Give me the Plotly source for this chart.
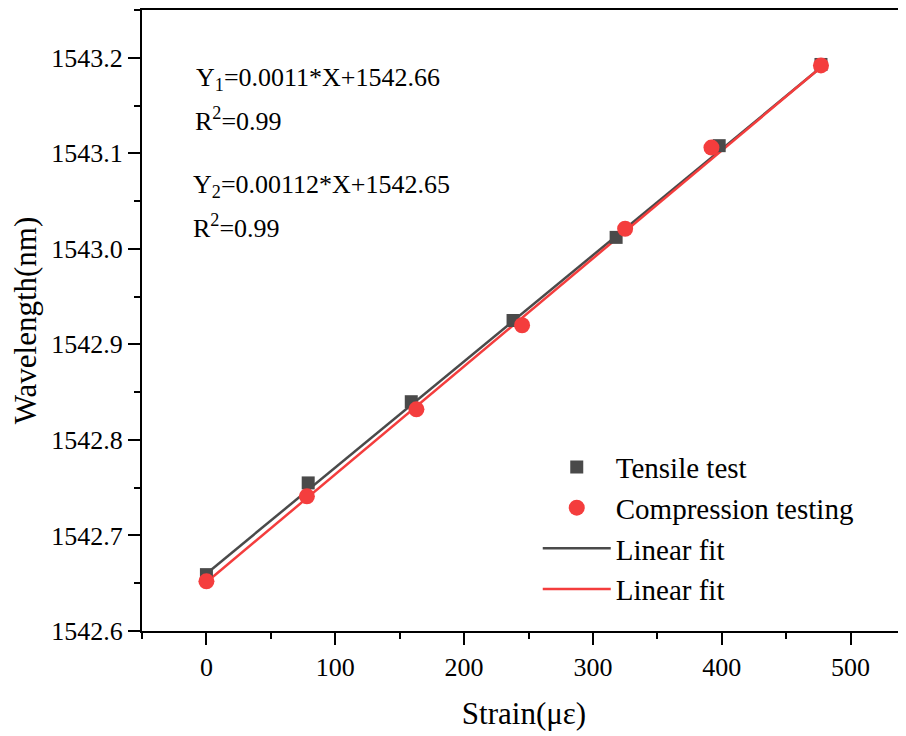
import plotly.graph_objects as go

# Data
tensile_x = [0, 79, 159, 238, 318, 398, 477]
tensile_y = [1542.659, 1542.755, 1542.840, 1542.925, 1543.012, 1543.108, 1543.193]
compress_x = [0, 78, 163, 245, 325, 392, 477]
compress_y = [1542.652, 1542.741, 1542.832, 1542.920, 1543.021, 1543.106, 1543.192]
fit1_x = [0, 477]
fit1_y = [1542.660, 1543.190]
fit2_x = [0, 477]
fit2_y = [1542.651, 1543.190]

x_ticks = [0, 100, 200, 300, 400, 500]
y_ticks = [1542.6, 1542.7, 1542.8, 1542.9, 1543.0, 1543.1, 1543.2]
y_ticklabels = ["1542.6", "1542.7", "1542.8", "1542.9", "1543.0", "1543.1", "1543.2"]

GRAY = "#4a4a4a"
RED = "#f43d3d"
FONT = "Liberation Serif"

fig = go.Figure()
fig.add_trace(go.Scatter(x=fit1_x, y=fit1_y, mode="lines", name="Linear fit",
                         line=dict(color=GRAY, width=2.5), legendrank=3))
fig.add_trace(go.Scatter(x=fit2_x, y=fit2_y, mode="lines", name="Linear fit",
                         line=dict(color=RED, width=2.5), legendrank=4))
fig.add_trace(go.Scatter(x=tensile_x, y=tensile_y, mode="markers", name="Tensile test",
                         marker=dict(symbol="square", size=13, color=GRAY), legendrank=1))
fig.add_trace(go.Scatter(x=compress_x, y=compress_y, mode="markers", name="Compression testing",
                         marker=dict(symbol="circle", size=16, color=RED), legendrank=2))

ann_font = dict(family=FONT, size=26, color="black")
anns = [
    ("Y<sub>1</sub>=0.0011*X+1542.66", 194, 77),
    ("R<sup>2</sup>=0.99", 193, 118),
    ("Y<sub>2</sub>=0.00112*X+1542.65", 191, 185),
    ("R<sup>2</sup>=0.99", 191, 225),
]
for txt, px, py in anns:
    fig.add_annotation(text=txt, xref="paper", yref="paper",
                       x=(px - 142) / 764, y=(631 - py) / 623,
                       xanchor="left", yanchor="middle", showarrow=False, font=ann_font)

fig.update_layout(
    width=898, height=728,
    margin=dict(l=134, r=0, t=0, b=105),
    paper_bgcolor="white", plot_bgcolor="white",
    font=dict(family=FONT, size=26, color="black"),
    legend=dict(x=0.518, y=0.305, xanchor="left", yanchor="top",
                font=dict(family=FONT, size=29), bgcolor="rgba(0,0,0,0)",
                itemwidth=68, tracegroupgap=0, traceorder="normal"),
    xaxis=dict(range=[-50, 543], tickvals=x_ticks, showgrid=False, zeroline=False,
               showline=True, linecolor="black", linewidth=2, mirror=True,
               ticks="outside", ticklen=12, tickwidth=2, tickcolor="black",
               minor=dict(ticks="outside", ticklen=6, tickwidth=2, tickcolor="black", dtick=50, tick0=0),
               tickfont=dict(family=FONT, size=26),
               title=dict(text="Strain(με)", font=dict(family=FONT, size=31), standoff=21)),
    yaxis=dict(range=[1542.6, 1543.25], tickvals=y_ticks, ticktext=y_ticklabels,
               showgrid=False, zeroline=False,
               showline=True, linecolor="black", linewidth=2,
               ticks="outside", ticklen=12, tickwidth=2, tickcolor="black",
               minor=dict(ticks="outside", ticklen=6, tickwidth=2, tickcolor="black", dtick=0.05, tick0=1542.6),
               tickfont=dict(family=FONT, size=26),
               title=dict(text="Wavelength(nm)", font=dict(family=FONT, size=31), standoff=12)),
)

fig.write_html("out.html")
